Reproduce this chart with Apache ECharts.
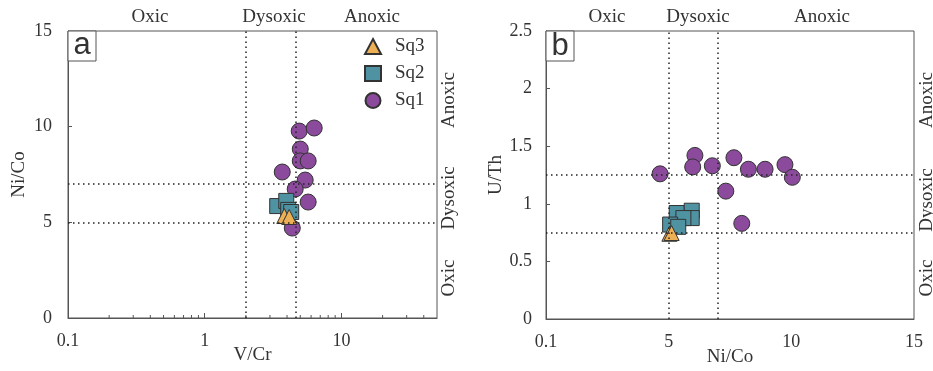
<!DOCTYPE html>
<html>
<head>
<meta charset="utf-8">
<script src="https://cdn.jsdelivr.net/npm/echarts@6/dist/echarts.min.js"></script>
<style>
  html, body { margin: 0; padding: 0; background: #fff; }
  #chart { width: 933px; height: 371px; }
</style>
</head>
<body>
<div id="chart"></div>
<script>
// panel a: V/Cr (log) vs Ni/Co
const sq1A = [[4.91, 9.77], [6.32, 9.93], [5.0, 8.83], [5.0, 8.21], [5.71, 8.21],
  [3.69, 7.63], [5.43, 7.21], [4.59, 6.74], [5.71, 6.06], [4.37, 4.7]];
const sq2A = [[3.39, 5.85], [3.95, 6.12], [4.08, 5.65], [4.29, 5.54]];
const sq3A = [[3.82, 5.33], [4.15, 5.28]];

// panel b: Ni/Co vs U/Th
const sq1B = [[4.65, 1.26], [6.07, 1.42], [5.98, 1.32], [6.78, 1.33], [7.66, 1.4],
  [8.25, 1.3], [8.93, 1.3], [9.74, 1.34], [10.04, 1.23], [7.33, 1.11], [7.98, 0.83]];
const sq2B = [[5.33, 0.92], [5.94, 0.94], [5.94, 0.876], [5.6, 0.876], [5.06, 0.82], [5.39, 0.8]];
const sq3B = [[5.03, 0.74], [5.12, 0.746]];

// threshold lines
const vcrLimits = [2, 4.6];
const nicoLimitsA = [5, 7];
const nicoLimitsB = [5, 7];
const uthLimits = [0.75, 1.25];

// log minor ticks on V/Cr axis
const vcrMinorTicks = [0.2, 0.3, 0.4, 0.5, 0.6, 0.7, 0.8, 0.9,
  2, 3, 4, 5, 6, 7, 8, 9, 20, 30, 40];

const serif = "Liberation Serif";
const ink = "#333";
const axisColor = "#555";

const colSq1 = "#8b4a9c";
const colSq2 = "#4f93a3";
const colSq3 = "#edb055";

const chart = echarts.init(document.getElementById("chart"));

function dotted(vals, key) {
  return vals.map(function (v) { const o = {}; o[key] = v; return o; });
}

function axisBase() {
  return {
    nameMoveOverlap: false,
    axisLine: { show: true, lineStyle: { color: axisColor, width: 1 } },
    axisTick: { show: true, inside: true, length: 4, lineStyle: { color: axisColor } },
    splitLine: { show: false },
    axisLabel: { color: ink, fontFamily: serif, fontSize: 18 },
    nameTextStyle: { color: ink, fontFamily: serif, fontSize: 19 },
  };
}

function markSeries(xi, xs, ys) {
  return {
    type: "scatter",
    xAxisIndex: xi,
    yAxisIndex: xi,
    data: [],
    z: 1,
    silent: true,
    markLine: {
      silent: true,
      symbol: ["none", "none"],
      label: { show: false },
      lineStyle: { color: "#222", width: 1.5, type: [1.5, 3.5] },
      data: dotted(xs, "xAxis").concat(dotted(ys, "yAxis")),
    },
  };
}

function pts(name, xi, data, symbol, size, color) {
  return {
    name: name,
    type: "scatter",
    xAxisIndex: xi,
    yAxisIndex: xi,
    symbol: symbol,
    symbolSize: size,
    data: data,
    z: 3,
    itemStyle: { color: color, borderColor: "#333", borderWidth: 1, opacity: 1 },
  };
}

function txt(x, y, s, size, rot, family) {
  return {
    type: "text",
    x: x,
    y: y,
    rotation: rot || 0,
    style: {
      text: s,
      fill: ink,
      font: size + "px " + (family || "'Liberation Serif', serif"),
      align: "center",
      verticalAlign: "middle",
    },
  };
}

const option = {
  animation: false,
  backgroundColor: "#fff",
  grid: [
    { left: 68, top: 31, width: 369, height: 287, outerBoundsMode: "none", containLabel: false,
      show: true, borderColor: axisColor, borderWidth: 1 },
    { left: 546, top: 31, width: 368, height: 288, outerBoundsMode: "none", containLabel: false,
      show: true, borderColor: axisColor, borderWidth: 1 },
  ],
  xAxis: [
    Object.assign(axisBase(), {
      gridIndex: 0,
      type: "log",
      logBase: 10,
      min: 0.1,
      max: 50,
      name: "V/Cr",
      nameLocation: "middle",
      nameGap: 28,
      axisTick: { show: true, inside: true, length: 5, lineStyle: { color: axisColor } },
      axisLabel: {
        color: ink, fontFamily: serif, fontSize: 18, margin: 14,
        showMaxLabel: false,
        formatter: function (v) {
          const e = Math.log10(v);
          if (Math.abs(e - Math.round(e)) > 1e-6 || v > 11) return "";
          return v < 1 ? "0.1" : String(Math.round(v));
        },
      },
    }),
    Object.assign(axisBase(), {
      gridIndex: 1,
      type: "value",
      min: 0,
      max: 15,
      interval: 5,
      name: "Ni/Co",
      nameLocation: "middle",
      nameGap: 29,
      axisTick: { show: false },
      axisLabel: {
        color: ink, fontFamily: serif, fontSize: 18, margin: 14,
        formatter: function (v) { return v === 0 ? "0.1" : String(v); },
      },
    }),
  ],
  yAxis: [
    Object.assign(axisBase(), {
      gridIndex: 0,
      type: "value",
      min: 0,
      max: 15,
      interval: 5,
      name: "Ni/Co",
      nameLocation: "middle",
      nameGap: 39,
      axisLabel: { color: ink, fontFamily: serif, fontSize: 18, margin: 16 },
    }),
    Object.assign(axisBase(), {
      gridIndex: 1,
      type: "value",
      min: 0,
      max: 2.5,
      interval: 0.5,
      name: "U/Th",
      nameLocation: "middle",
      nameGap: 40,
      axisLabel: { color: ink, fontFamily: serif, fontSize: 18, margin: 14 },
    }),
  ],
  legend: {
    data: ["Sq3", "Sq2", "Sq1"],
    orient: "vertical",
    left: 364,
    top: 37,
    itemWidth: 16,
    itemHeight: 15,
    itemGap: 8,
    padding: 0,
    textStyle: { color: ink, fontFamily: serif, fontSize: 19, padding: [0, 0, 0, 9] },
  },
  graphic: [
    txt(150, 17, "Oxic", 19),
    txt(274, 17, "Dysoxic", 19),
    txt(372, 17, "Anoxic", 19),
    txt(607, 17, "Oxic", 19),
    txt(698, 17, "Dysoxic", 19),
    txt(822, 17, "Anoxic", 19),
    txt(449, 100, "Anoxic", 19, Math.PI / 2),
    txt(449, 198, "Dysoxic", 19, Math.PI / 2),
    txt(449, 278, "Oxic", 19, Math.PI / 2),
    txt(927, 100, "Anoxic", 19, Math.PI / 2),
    txt(927, 200, "Dysoxic", 19, Math.PI / 2),
    txt(927, 278, "Oxic", 19, Math.PI / 2),
    {
      type: "rect",
      shape: { x: 68, y: 31, width: 28, height: 30 },
      style: { fill: "#fff", stroke: axisColor, lineWidth: 1 },
      z: 10,
    },
    Object.assign(txt(82, 45, "a", 31, 0, "'Liberation Sans', Arial, sans-serif"), { z: 11 }),
    {
      type: "rect",
      shape: { x: 546, y: 31, width: 28, height: 30 },
      style: { fill: "#fff", stroke: axisColor, lineWidth: 1 },
      z: 10,
    },
    Object.assign(txt(560, 46, "b", 31, 0, "'Liberation Sans', Arial, sans-serif"), { z: 11 }),
  ],
  series: [
    markSeries(0, vcrLimits, nicoLimitsA),
    markSeries(1, nicoLimitsB, uthLimits),
    {
      type: "custom",
      xAxisIndex: 0,
      yAxisIndex: 0,
      silent: true,
      data: vcrMinorTicks.map(function (v) { return [v, 0]; }),
      renderItem: function (params, api) {
        const p = api.coord([api.value(0), api.value(1)]);
        return {
          type: "line",
          shape: { x1: p[0], y1: p[1], x2: p[0], y2: p[1] - 3 },
          style: { stroke: axisColor, lineWidth: 1 },
        };
      },
    },
    pts("Sq1", 0, sq1A, "circle", 16, colSq1),
    pts("Sq2", 0, sq2A, "rect", 15, colSq2),
    pts("Sq3", 0, sq3A, "triangle", 15, colSq3),
    pts("Sq1", 1, sq1B, "circle", 16, colSq1),
    pts("Sq2", 1, sq2B, "rect", 15, colSq2),
    pts("Sq3", 1, sq3B, "triangle", 15, colSq3),
  ],
};

chart.setOption(option);
window.addEventListener("resize", function () {
  chart.resize();
});
</script>
</body>
</html>
